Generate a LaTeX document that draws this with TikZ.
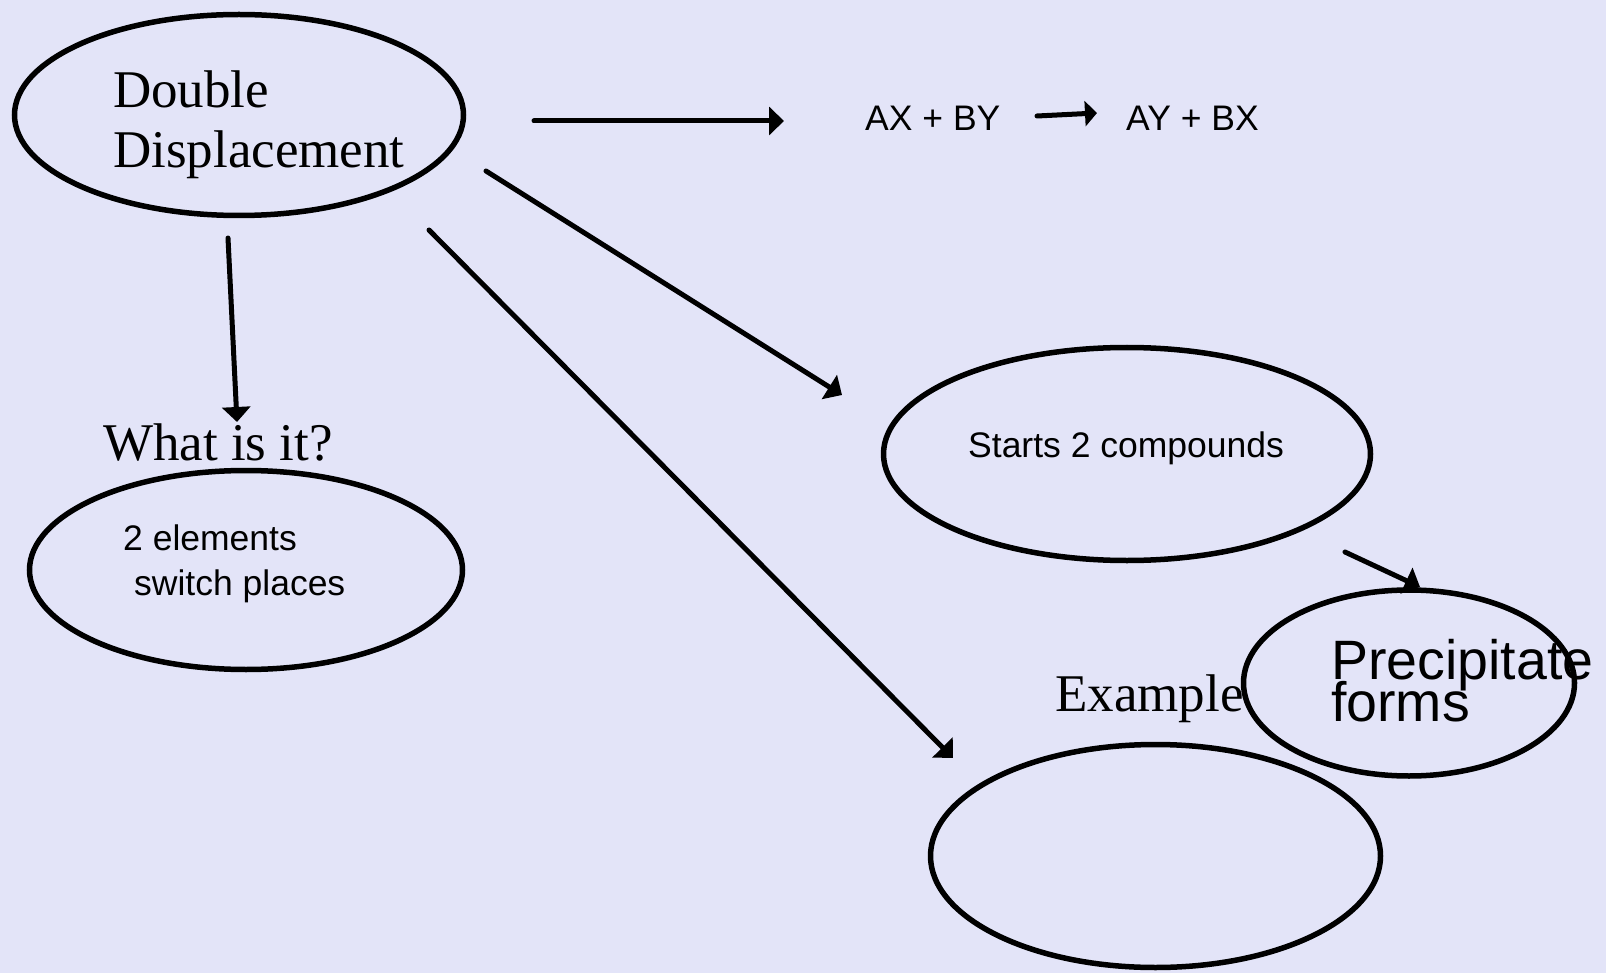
\documentclass[tikz,border=0pt]{standalone}
\usepackage{fontspec}
\setmainfont{Liberation Serif}
\newfontfamily\arialfont{Liberation Sans}
\usetikzlibrary{shapes.geometric,arrows.meta}
\definecolor{pagebg}{RGB}{227,228,248}
% let tightly spaced lines keep their baseline distance
\newcommand\tightlines{\lineskiplimit=-60pt\relax}
\tikzset{
  bubble/.style={ellipse, draw=black, line width=5.5pt, fill=pagebg, inner sep=0pt},
  conn/.style={line width=5pt, line cap=round, -{Triangle[length=15pt,width=28pt]}},
  smallconn/.style={line width=5pt, line cap=round, -{Triangle[length=12pt,width=25pt]}},
  serif/.style={font=\fontsize{53}{60}\selectfont, inner sep=0pt, anchor=base west, align=left},
  sans/.style={font=\arialfont\fontsize{35.5}{45}\selectfont, inner sep=0pt, anchor=base west, align=left},
  bigsans/.style={font=\arialfont\fontsize{55.5}{42}\selectfont\tightlines, inner sep=0pt, anchor=base west, align=left},
}
\begin{document}
\begin{tikzpicture}[x=1pt,y=-1pt]
\fill[pagebg] (0,0) rectangle (1606,973);
\useasboundingbox (0,0) rectangle (1606,973);

% empty example bubble and its caption
\node[bubble, minimum width=450pt, minimum height=223pt] (ex) at (1155.5,856) {};
\node[serif] (extitle) at (1055,711) {Example};

% precipitate bubble (multi-line text is placed by its last baseline)
\node[bubble, minimum width=331pt, minimum height=186pt] (prec) at (1409,683) {};
\node[bigsans] (prectext) at (1331,721) {Precipitate\\forms};

% definition bubble
\node[bubble, minimum width=433pt, minimum height=199pt] (swap) at (246,570) {};
\node[sans] (swaptext) at (123,595) {2 elements\\\hspace*{11pt}switch places};
\node[serif] (whatis) at (103,460) {What is it?};

% reactants bubble
\node[bubble, minimum width=487pt, minimum height=213pt] (starts) at (1127,454) {};
\node[sans] (startstext) at (968,457) {Starts 2 compounds};

% main topic
\node[bubble, minimum width=449pt, minimum height=201pt] (dd) at (239,115) {};
\node[serif] (ddtext) at (113,168) {Double\\Displacement};

% general equation
\node[sans] (lhs) at (865,131) {AX + BY};
\node[sans] (rhs) at (1126,131) {AY + BX};

% connector end points
\coordinate (h1) at (534,121);  \coordinate (h2) at (784,121);
\coordinate (s1) at (1037,116); \coordinate (s2) at (1097,113);
\coordinate (d1) at (228,238);  \coordinate (d2) at (237,422);
\coordinate (e1) at (486,171);  \coordinate (e2) at (842,395);
\coordinate (f1) at (429,230);  \coordinate (f2) at (953,758);
\coordinate (g1) at (1345,552); \coordinate (g2) at (1420,587);

\draw[conn] (h1) -- (h2);
\draw[smallconn] (s1) -- (s2);
\draw[conn] (d1) -- (d2);
\draw[conn] (e1) -- (e2);
\draw[conn] (f1) -- (f2);
\draw[conn] (g1) -- (g2);
\end{tikzpicture}
\end{document}
